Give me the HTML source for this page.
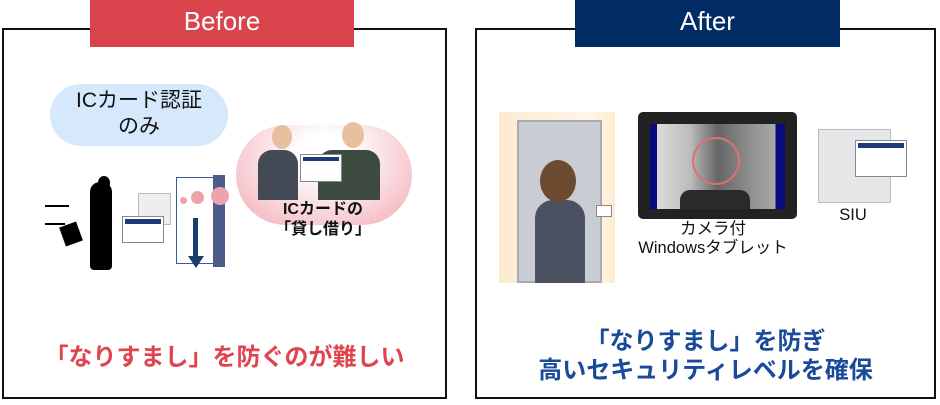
<!DOCTYPE html>
<html><head><meta charset="utf-8"><style>
*{margin:0;padding:0;box-sizing:border-box}
body{width:940px;height:405px;background:#fff;position:relative;overflow:hidden;font-family:"Liberation Sans","Noto Sans CJK JP",sans-serif}
.a{position:absolute}
.box{border:2.5px solid #111;background:#fff}
.t{white-space:nowrap;text-align:center}
</style></head><body>
<div class="a box" style="left:2px;top:28px;width:445px;height:371px"></div>
<div class="a box" style="left:475px;top:28px;width:461px;height:371px"></div>
<div class="a t" style="left:90px;top:0;width:264px;height:47px;background:#d9434b;color:#fff;font-size:26px;line-height:42px">Before</div>
<div class="a t" style="left:575px;top:0;width:265px;height:47px;background:#002b63;color:#fff;font-size:26px;line-height:42px">After</div>

<!-- left -->
<div class="a t" style="left:50px;top:84px;width:178px;height:62px;border-radius:31px;background:#d6e8fb;font-size:21px;line-height:26px;padding-top:4px;color:#111">ICカード認証<br>のみ</div>
<div class="a" style="left:236px;top:125px;width:176px;height:100px;border-radius:50px;background:radial-gradient(ellipse at 50% 30%,#fff 20%,#f4b6bf 90%)"></div>
<div class="a" style="left:258px;top:150px;width:40px;height:50px;background:#444a55;border-radius:14px 14px 0 0"></div>
<div class="a" style="left:272px;top:125px;width:20px;height:24px;background:#e8c0a0;border-radius:50%"></div>
<div class="a" style="left:318px;top:150px;width:62px;height:50px;background:#3d4a40;border-radius:14px 14px 0 0"></div>
<div class="a" style="left:342px;top:122px;width:22px;height:26px;background:#e8c0a0;border-radius:50%"></div>
<div class="a" style="left:300px;top:154px;width:42px;height:28px;background:#fff;border:1px solid #888"><div style="height:4px;background:#1e3a78;margin:2px"></div></div>
<div class="a t" style="left:248px;top:200px;width:150px;font-size:16px;font-weight:bold;line-height:20px;color:#111">ICカードの<br>「貸し借り」</div>
<div class="a" style="left:90px;top:182px;width:22px;height:88px;background:#000;border-radius:10px 10px 4px 4px"></div>
<div class="a" style="left:98px;top:176px;width:12px;height:14px;background:#000;border-radius:50%"></div>
<div class="a" style="left:62px;top:224px;width:18px;height:20px;background:#000;transform:rotate(-20deg)"></div>
<div class="a" style="left:45px;top:205px;width:24px;height:1.5px;background:#000"></div>
<div class="a" style="left:45px;top:223px;width:20px;height:1.5px;background:#000"></div>
<div class="a" style="left:138px;top:193px;width:33px;height:32px;background:#eee;border:1px solid #bbb"></div>
<div class="a" style="left:122px;top:216px;width:42px;height:27px;background:#fff;border:1px solid #888"><div style="height:5px;background:#1e3a78;margin:2px"></div></div>
<div class="a" style="left:176px;top:177px;width:40px;height:87px;border:1.5px solid #3a5aa0;background:#fff"></div>
<div class="a" style="left:213px;top:175px;width:12px;height:92px;background:#4d5d8a"></div>
<div class="a" style="left:180px;top:197px;width:7px;height:7px;border-radius:50%;background:#eca3ab"></div>
<div class="a" style="left:191px;top:191px;width:13px;height:13px;border-radius:50%;background:#eca3ab"></div>
<div class="a" style="left:211px;top:187px;width:18px;height:18px;border-radius:50%;background:#eca3ab"></div>
<div class="a" style="left:193px;top:218px;width:5px;height:40px;background:#1d3d6e"></div>
<div class="a" style="left:188px;top:256px;width:0;height:0;border-left:8px solid transparent;border-right:8px solid transparent;border-top:12px solid #1d3d6e"></div>
<div class="a t" style="left:2px;top:337px;width:445px;font-size:24px;font-weight:bold;color:#e0454f">「なりすまし」を防ぐのが難しい</div>

<!-- right -->
<div class="a" style="left:499px;top:112px;width:116px;height:171px;background:linear-gradient(90deg,#fdebd0,#fff6e8 80%,#fdebd0)"></div>
<div class="a" style="left:517px;top:120px;width:85px;height:163px;background:#c9ccd2;border:2px solid #a7abb3"></div>
<div class="a" style="left:535px;top:200px;width:50px;height:83px;background:#4a5160;border-radius:18px 18px 0 0"></div>
<div class="a" style="left:540px;top:160px;width:36px;height:42px;background:#6b4a30;border-radius:50%"></div>
<div class="a" style="left:596px;top:205px;width:16px;height:12px;background:#fff;border:1px solid #888"></div>
<div class="a" style="left:638px;top:112px;width:159px;height:107px;background:#222;border-radius:5px"></div>
<div class="a" style="left:650px;top:124px;width:135px;height:85px;background:linear-gradient(90deg,#0b0b80 5%,#ddd 5%,#bbb 30%,#666 50%,#888 70%,#aaa 93%,#0b0b80 93%)"></div>
<div class="a" style="left:692px;top:137px;width:48px;height:48px;border:2px solid #e07070;border-radius:50%"></div>
<div class="a" style="left:680px;top:190px;width:70px;height:19px;background:#2a2a2a;border-radius:10px 10px 0 0"></div>
<div class="a t" style="left:613px;top:220px;width:200px;font-size:16.5px;line-height:19px;color:#111">カメラ付<br>Windowsタブレット</div>
<div class="a" style="left:818px;top:129px;width:73px;height:74px;background:#e5e7e8;border:1px solid #bbb"></div>
<div class="a" style="left:855px;top:140px;width:52px;height:37px;background:#fff;border:1px solid #888"><div style="height:5px;background:#1e3a78;margin:2px"></div></div>
<div class="a t" style="left:823px;top:206px;width:60px;font-size:16.5px;color:#111">SIU</div>
<div class="a t" style="left:475px;top:327px;width:461px;font-size:24px;font-weight:bold;line-height:29px;color:#1a4a9a">「なりすまし」を防ぎ<br>高いセキュリティレベルを確保</div>
</body></html>
